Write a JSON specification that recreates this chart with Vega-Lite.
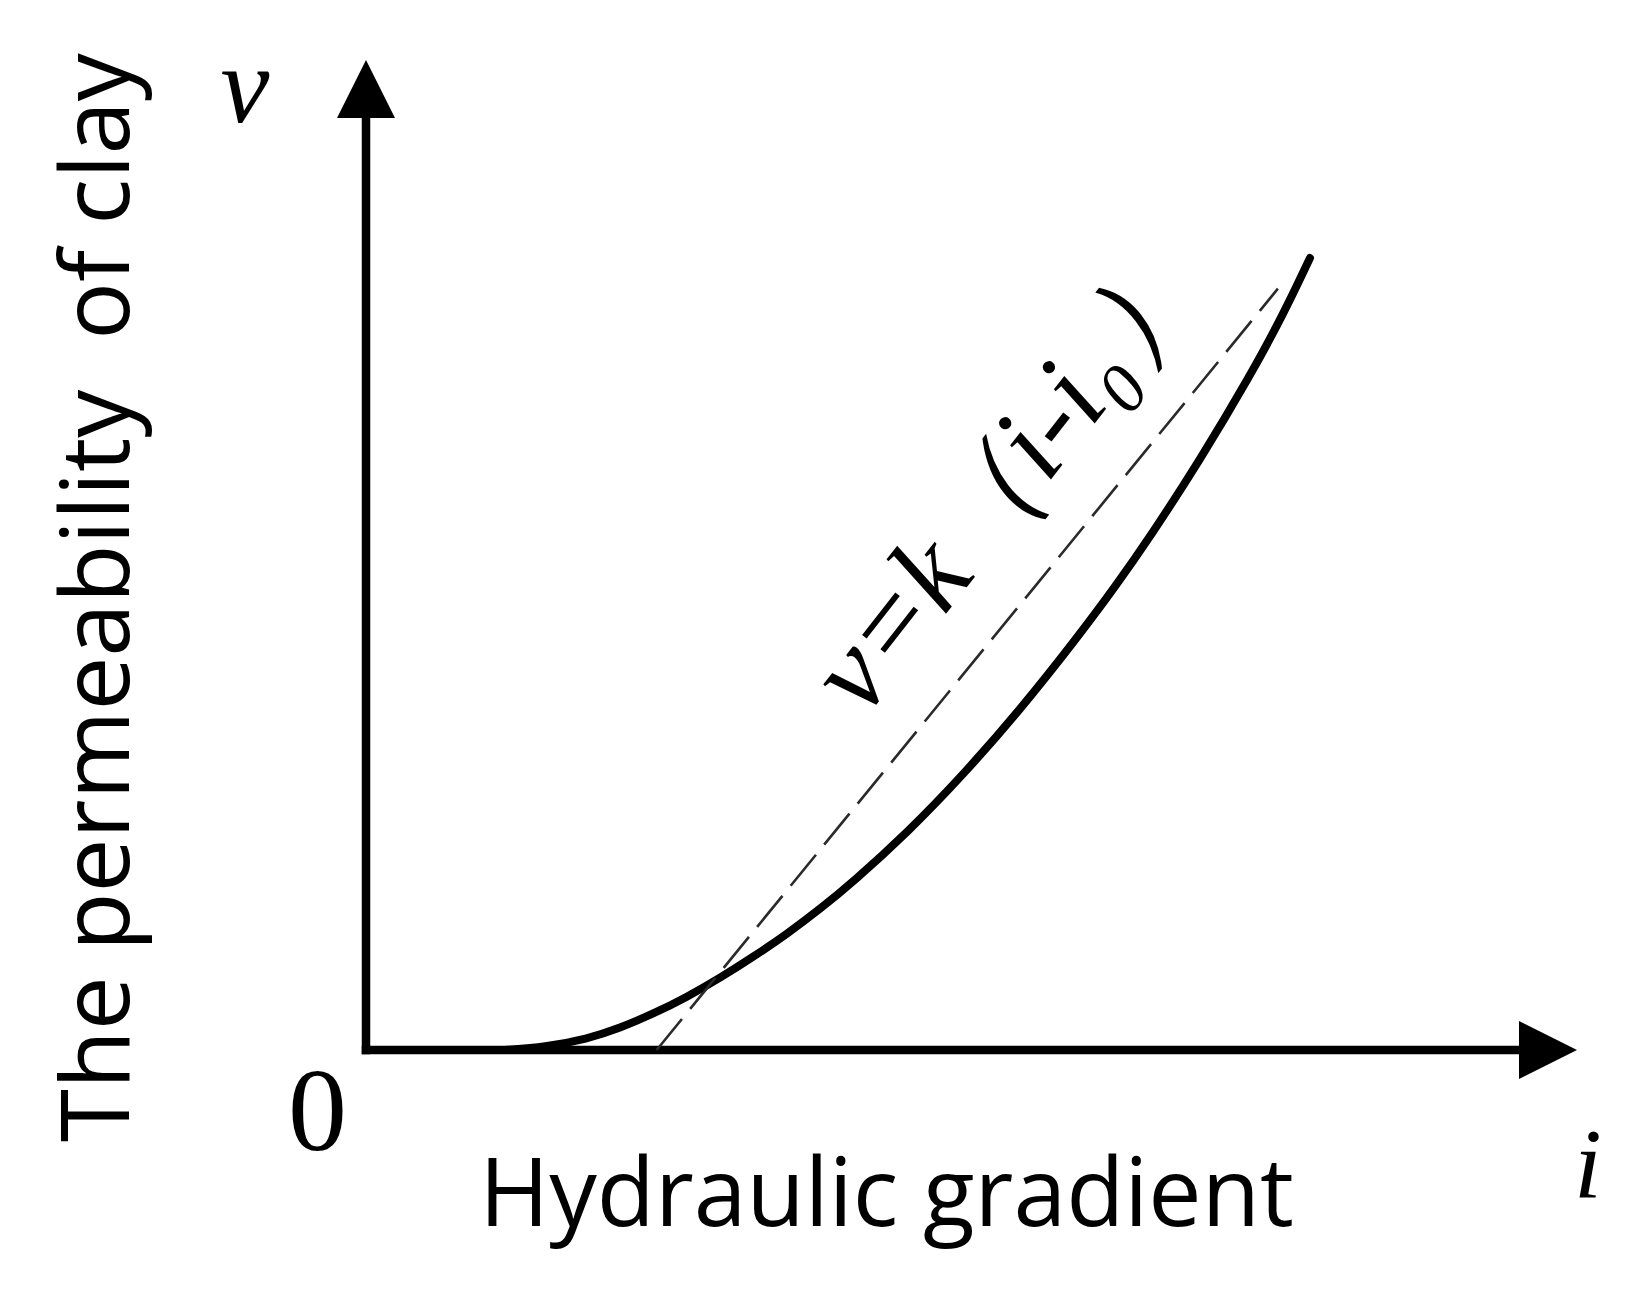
{
  "$schema": "https://vega.github.io/schema/vega-lite/v6.json",
  "width": 1211,
  "height": 990,
  "autosize": {"type": "none"},
  "padding": {"left": 366, "top": 60, "right": 71, "bottom": 246},
  "background": "white",
  "config": {"view": {"stroke": null}, "font": "Open Sans"},
  "encoding": {
    "x": {
      "field": "x", "type": "quantitative",
      "scale": {"domain": [0, 100], "nice": false, "zero": false},
      "axis": {
        "title": "Hydraulic gradient", "domain": false, "ticks": false, "labels": false, "grid": false,
        "titleFont": "Open Sans", "titleFontSize": 95, "titleFontWeight": "normal", "titleColor": "black",
        "titleX": 520, "titleY": 175, "titleBaseline": "alphabetic", "titleAlign": "center", "titleAnchor": null
      }
    },
    "y": {
      "field": "y", "type": "quantitative",
      "scale": {"domain": [0, 100], "nice": false, "zero": false},
      "axis": {
        "title": "The permeability\u00a0 of clay", "domain": false, "ticks": false, "labels": false, "grid": false,
        "titleFont": "Open Sans", "titleFontSize": 96, "titleFontWeight": "normal", "titleColor": "black",
        "titleAngle": 270, "titleX": -238, "titleY": 537, "titleBaseline": "alphabetic", "titleAlign": "center", "titleAnchor": null
      }
    }
  },
  "layer": [
    {
      "data": {"values": [{"x": 0, "y": 0, "x2": 0, "y2": 94}, {"x": 0, "y": 0, "x2": 95, "y2": 0}]},
      "mark": {"type": "rule", "color": "black", "strokeWidth": 8.5, "strokeCap": "square"},
      "encoding": {"x2": {"field": "x2"}, "y2": {"field": "y2"}}
    },
    {
      "data": {"values": [
        {"x": 11.48, "y": 0}, {"x": 14.78, "y": 0.30}, {"x": 18.25, "y": 1.11}, {"x": 20.97, "y": 2.22},
        {"x": 23.70, "y": 3.64}, {"x": 26.51, "y": 5.35}, {"x": 29.23, "y": 7.27}, {"x": 31.96, "y": 9.39},
        {"x": 34.76, "y": 11.72}, {"x": 37.49, "y": 14.24}, {"x": 40.21, "y": 16.97}, {"x": 44.76, "y": 22.02},
        {"x": 49.30, "y": 27.78}, {"x": 54.00, "y": 34.34}, {"x": 58.71, "y": 41.62}, {"x": 61.85, "y": 46.77},
        {"x": 64.74, "y": 51.82}, {"x": 68.87, "y": 59.60}, {"x": 73.00, "y": 68.08}, {"x": 75.72, "y": 74.24},
        {"x": 77.95, "y": 80.0}
      ]},
      "mark": {"type": "line", "color": "black", "strokeWidth": 8, "interpolate": "basis", "strokeCap": "round"}
    },
    {
      "data": {"values": [{"x": 24.0, "y": 0}, {"x": 75.3, "y": 76.9}]},
      "mark": {"type": "line", "color": "#2a2a2a", "strokeWidth": 2.6, "strokeDash": [40, 13]}
    },
    {
      "data": {"values": [{"x": 0, "y": 100, "dir": "up"}, {"x": 100, "y": 0, "dir": "right"}]},
      "mark": {"type": "point", "filled": true, "color": "black", "size": 3364, "opacity": 1, "strokeWidth": 0},
      "encoding": {
        "shape": {"field": "dir", "type": "nominal", "legend": null,
          "scale": {"domain": ["up", "right"], "range": ["M0,0L-1,2L1,2Z", "M0,0L-2,-1L-2,1Z"]}}
      }
    },
    {
      "data": {"values": [{"label": "v=k（i-i₀）", "x": 53.0, "y": 57.8}]},
      "mark": {"type": "text", "font": "Liberation Serif", "fontStyle": "italic", "fontSize": 116, "align": "center", "baseline": "middle", "angle": -52, "color": "black"},
      "encoding": {"text": {"field": "label"}}
    },
    {
      "data": {"values": [{"label": "v", "x": -10, "y": 93.7}]},
      "mark": {"type": "text", "font": "Liberation Serif", "fontStyle": "italic", "fontSize": 110, "align": "center", "baseline": "alphabetic", "color": "black"},
      "encoding": {"text": {"field": "label"}}
    },
    {
      "data": {"values": [{"label": "0", "x": -4, "y": -10.1}]},
      "mark": {"type": "text", "font": "Liberation Serif", "fontSize": 118, "align": "center", "baseline": "alphabetic", "color": "black"},
      "encoding": {"text": {"field": "label"}}
    },
    {
      "data": {"values": [{"label": "i", "x": 100.9, "y": -14.85}]},
      "mark": {"type": "text", "font": "Liberation Serif", "fontStyle": "italic", "fontSize": 100, "align": "center", "baseline": "alphabetic", "color": "black"},
      "encoding": {"text": {"field": "label"}}
    }
  ]
}
